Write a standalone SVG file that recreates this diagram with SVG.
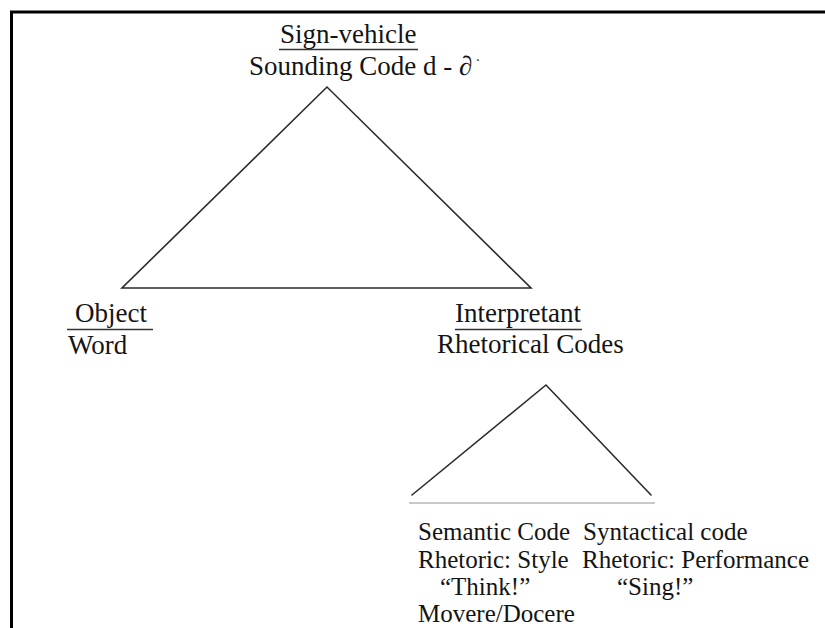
<svg xmlns="http://www.w3.org/2000/svg" width="825" height="628" viewBox="0 0 825 628">
  <style>
    .t { font-family: "Liberation Serif", "Times New Roman", serif; fill: #141414; }
    .big { font-size: 27px; }
    .small { font-size: 25px; }
    .edge { stroke: #2b2b2b; stroke-width: 1.6; fill: none; stroke-linecap: round; }
    .base2 { stroke: #c8c8c8; stroke-width: 2; fill: none; }
    .ul { stroke: #333; stroke-width: 1.3; }
    .frame { stroke: #000; stroke-width: 3; fill: none; }
  </style>
  <rect width="825" height="628" fill="#fff"/>
  <!-- page frame: top and left rules only -->
  <path class="frame" d="M11.5 628 V12 H825"/>

  <g id="connectors">
    <!-- upper triangle -->
    <path class="edge" d="M327 87 L122 288 L531 288 Z"/>
    <!-- lower triangle: two legs and a pale base -->
    <path class="edge" d="M412 495 L546 385 L651 495"/>
    <line class="base2" x1="409" y1="503" x2="655" y2="503"/>
  </g>

  <g id="sign-vehicle">
    <text class="t big" x="280" y="43">Sign-vehicle</text>
    <line class="ul" x1="279" y1="49.5" x2="418" y2="49.5"/>
    <text class="t big" x="249" y="75">Sounding Code d - ∂<tspan font-size="16" dx="3" dy="-5">˙</tspan></text>
  </g>

  <g id="object">
    <text class="t big" x="75" y="322">Object</text>
    <line class="ul" x1="67" y1="329.5" x2="153" y2="329.5"/>
    <text class="t big" x="68" y="354">Word</text>
  </g>

  <g id="interpretant">
    <text class="t big" x="455" y="322">Interpretant</text>
    <line class="ul" x1="455" y1="329.5" x2="582" y2="329.5"/>
    <text class="t big" x="437" y="353">Rhetorical Codes</text>
  </g>

  <g id="semantic-code">
    <text class="t small" x="418" y="540">Semantic Code</text>
    <text class="t small" x="418" y="568">Rhetoric: Style</text>
    <text class="t small" x="440" y="595">“Think!”</text>
    <text class="t small" x="418" y="622">Movere/Docere</text>
  </g>

  <g id="syntactical-code">
    <text class="t small" x="583" y="540">Syntactical code</text>
    <text class="t small" x="582" y="568">Rhetoric: Performance</text>
    <text class="t small" x="617" y="595">“Sing!”</text>
  </g>
</svg>
